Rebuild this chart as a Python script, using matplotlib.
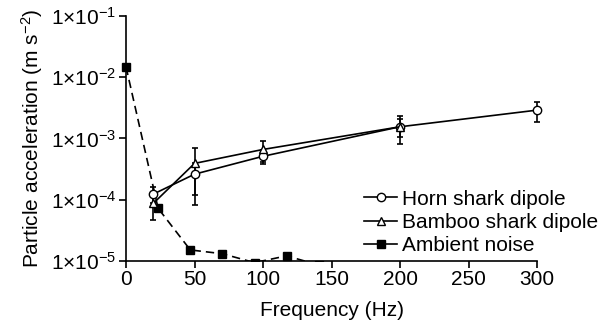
import matplotlib
matplotlib.use("Agg")
import matplotlib.pyplot as plt
from matplotlib.lines import Line2D

plt.rcParams['font.family'] = ['Liberation Sans', 'DejaVu Sans']
plt.rcParams['mathtext.fontset'] = 'custom'
plt.rcParams['mathtext.rm'] = 'Liberation Sans'
plt.rcParams['mathtext.it'] = 'Liberation Sans'

# data
horn_f = [20, 50, 100, 200, 300]
horn_a = [1.23e-4, 2.6e-4, 5.1e-4, 1.55e-3, 2.9e-3]
horn_err = [0.35e-4, 1.4e-4, 1.3e-4, 0.5e-3, 1.05e-3]

bamboo_f = [20, 50, 100, 200]
bamboo_a = [8.7e-5, 3.9e-4, 6.6e-4, 1.55e-3]
bamboo_err = [4.0e-5, 3.1e-4, 2.5e-4, 0.75e-3]

noise_f = [0, 23.4, 46.9, 70.3, 93.8, 117.2, 140.6]
noise_a = [1.48e-2, 7.2e-5, 1.5e-5, 1.3e-5, 9.3e-6, 1.2e-5, 8.5e-6]

ytick_vals = [1e-5, 1e-4, 1e-3, 1e-2, 1e-1]
ytick_labels = [r'$1{\times}10^{-5}$', r'$1{\times}10^{-4}$', r'$1{\times}10^{-3}$',
                r'$1{\times}10^{-2}$', r'$1{\times}10^{-1}$']
xtick_vals = [0, 50, 100, 150, 200, 250, 300]

fig = plt.figure(figsize=(6.12, 3.29), dpi=100)
ax = fig.add_axes([0.1925, 0.2076, 0.6984, 0.7434])

ax.errorbar(horn_f, horn_a, yerr=horn_err, color='black', marker='o', mfc='white',
            mec='black', ms=6, lw=1.2, capsize=2.5, elinewidth=1.2, capthick=1.2)
ax.errorbar(bamboo_f, bamboo_a, yerr=bamboo_err, color='black', marker='^', mfc='white',
            mec='black', ms=6, lw=1.2, capsize=2.5, elinewidth=1.2, capthick=1.2)
ax.plot(noise_f, noise_a, color='black', ls=(0, (5, 3)), lw=1.2, marker='s', ms=5.5,
        mfc='black')

ax.set_yscale('log')
ax.set_xlim(-6, 306)
ax.set_ylim(1e-5, 1e-1)
ax.spines['left'].set_position(('data', 0))
ax.spines['bottom'].set_bounds(0, 300)
ax.spines['top'].set_visible(False)
ax.spines['right'].set_visible(False)
ax.spines['left'].set_linewidth(1.2)
ax.spines['bottom'].set_linewidth(1.2)

ax.set_yticks(ytick_vals)
ax.set_yticklabels(ytick_labels)
ax.yaxis.set_minor_locator(matplotlib.ticker.NullLocator())
ax.set_xticks(xtick_vals)
ax.tick_params(axis='both', labelsize=15, length=5, width=1.2, direction='out', pad=2)

ax.set_xlabel('Frequency (Hz)', fontsize=15, labelpad=8)
ax.set_ylabel(r'Particle acceleration (m s$^{-2}$)', fontsize=15, labelpad=4)

handles = [
    Line2D([], [], color='black', lw=1.2, marker='o', ms=6, mfc='white', mec='black'),
    Line2D([], [], color='black', lw=1.2, marker='^', ms=6, mfc='white', mec='black'),
    Line2D([], [], color='black', lw=1.2, marker='s', ms=5.5, mfc='black'),
]
labels = ['Horn shark dipole', 'Bamboo shark dipole', 'Ambient noise']
ax.legend(handles, labels, loc='upper left', bbox_to_anchor=(0.578, 0.455),
          bbox_transform=fig.transFigure, frameon=False, fontsize=15,
          handlelength=1.6, handletextpad=0.2, labelspacing=0.2, borderpad=0)

fig.savefig('out.png', dpi=100)
